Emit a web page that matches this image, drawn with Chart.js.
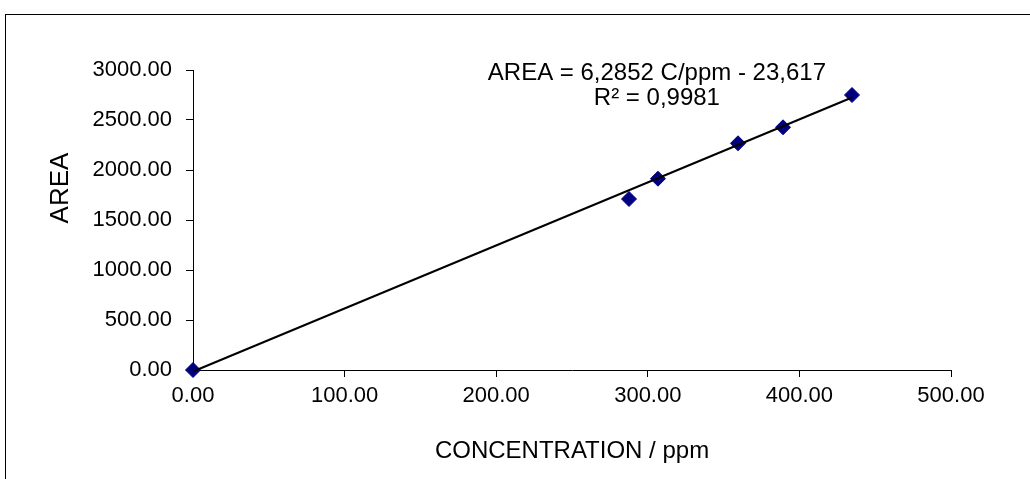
<!DOCTYPE html>
<html>
<head>
<meta charset="utf-8">
<script src="https://cdn.jsdelivr.net/npm/chart.js@4/dist/chart.umd.min.js"></script>
<style>
    html, body { margin: 0; padding: 0; background: #fff; }
    #wrap { position: relative; width: 1030px; height: 479px; overflow: hidden; }
    #frame {
        position: absolute; left: 5px; top: 14px; width: 1100px; height: 600px;
        border-left: 1px solid #000; border-top: 1px solid #000;
    }
    #chart { position: absolute; left: 0; top: 0; }
</style>
</head>
<body>
<div id="wrap">
    <div id="frame"></div>
    <canvas id="chart" width="1030" height="479"></canvas>
</div>
<script>
// calibration points
const concentration = [0, 287.6, 306.7, 359.5, 389.2, 434.7];
const area = [0, 1710, 1913, 2267, 2427, 2750];

// trend line ends
const trendX = [0, 434.7];
const trendY = [-15, 2725];

const xTicks = [0, 100, 200, 300, 400, 500];
const yTicks = [0, 500, 1000, 1500, 2000, 2500, 3000];

const equationLines = ['AREA = 6,2852 C/ppm - 23,617', 'R² = 0,9981'];
const equationAt = { x: 306, y: 2980 };

const FONT = "'Liberation Sans', Arial, sans-serif";

// equation + y title drawn on top
const extras = {
    id: 'extras',
    afterDraw(chart) {
        const { ctx, scales: { x, y } } = chart;
        ctx.save();
        ctx.fillStyle = '#000';
        ctx.textAlign = 'center';
        ctx.textBaseline = 'middle';
        ctx.font = `24px ${FONT}`;
        const ex = x.getPixelForValue(equationAt.x);
        const ey = y.getPixelForValue(equationAt.y);
        equationLines.forEach((t, i) => ctx.fillText(t, ex, ey + 1 + i * 25));

        ctx.translate(61, 188);
        ctx.rotate(-Math.PI / 2);
        ctx.font = `26px ${FONT}`;
        ctx.fillText('AREA', 0, 0);
        ctx.restore();
    },
};

new Chart(document.getElementById('chart'), {
    type: 'scatter',
    data: {
        datasets: [
            {
                label: 'Trend',
                type: 'line',
                data: trendX.map((v, i) => ({ x: v, y: trendY[i] })),
                borderColor: '#000',
                borderWidth: 2,
                pointRadius: 0,
                fill: false,
                clip: false,
                order: 0,
            },
            {
                label: 'AREA',
                data: concentration.map((v, i) => ({ x: v, y: area[i] })),
                pointStyle: 'rectRot',
                pointRadius: 7.5,
                backgroundColor: '#000080',
                borderColor: '#000080',
                borderWidth: 1,
                clip: false,
                order: 1,
            },
        ],
    },
    options: {
        responsive: false,
        animation: false,
        layout: { padding: { left: 0, top: 70, right: 79, bottom: 0 } },
        plugins: {
            legend: { display: false },
            tooltip: { enabled: false },
        },
        scales: {
            x: {
                type: 'linear',
                min: 0,
                max: 500,
                afterFit: s => { s.height = 109; },
                afterBuildTicks: s => { s.ticks = xTicks.map(v => ({ value: v })); },
                border: { color: '#000', width: 1 },
                grid: { drawOnChartArea: false, color: '#000', tickLength: 7 },
                ticks: {
                    color: '#000',
                    padding: 6,
                    font: { family: FONT, size: 22 },
                    callback: v => Number(v).toFixed(2),
                },
                title: {
                    display: true,
                    text: 'CONCENTRATION / ppm',
                    color: '#000',
                    font: { family: FONT, size: 24 },
                    padding: { top: 0, bottom: 13 },
                },
            },
            y: {
                type: 'linear',
                min: 0,
                max: 3000,
                afterFit: s => { s.width = 193; },
                afterBuildTicks: s => { s.ticks = yTicks.map(v => ({ value: v })); },
                border: { color: '#000', width: 1 },
                grid: { drawOnChartArea: false, color: '#000', tickLength: 7 },
                ticks: {
                    color: '#000',
                    padding: 14,
                    font: { family: FONT, size: 22 },
                    callback: v => Number(v).toFixed(2),
                },
            },
        },
    },
    plugins: [extras],
});
</script>
</body>
</html>
